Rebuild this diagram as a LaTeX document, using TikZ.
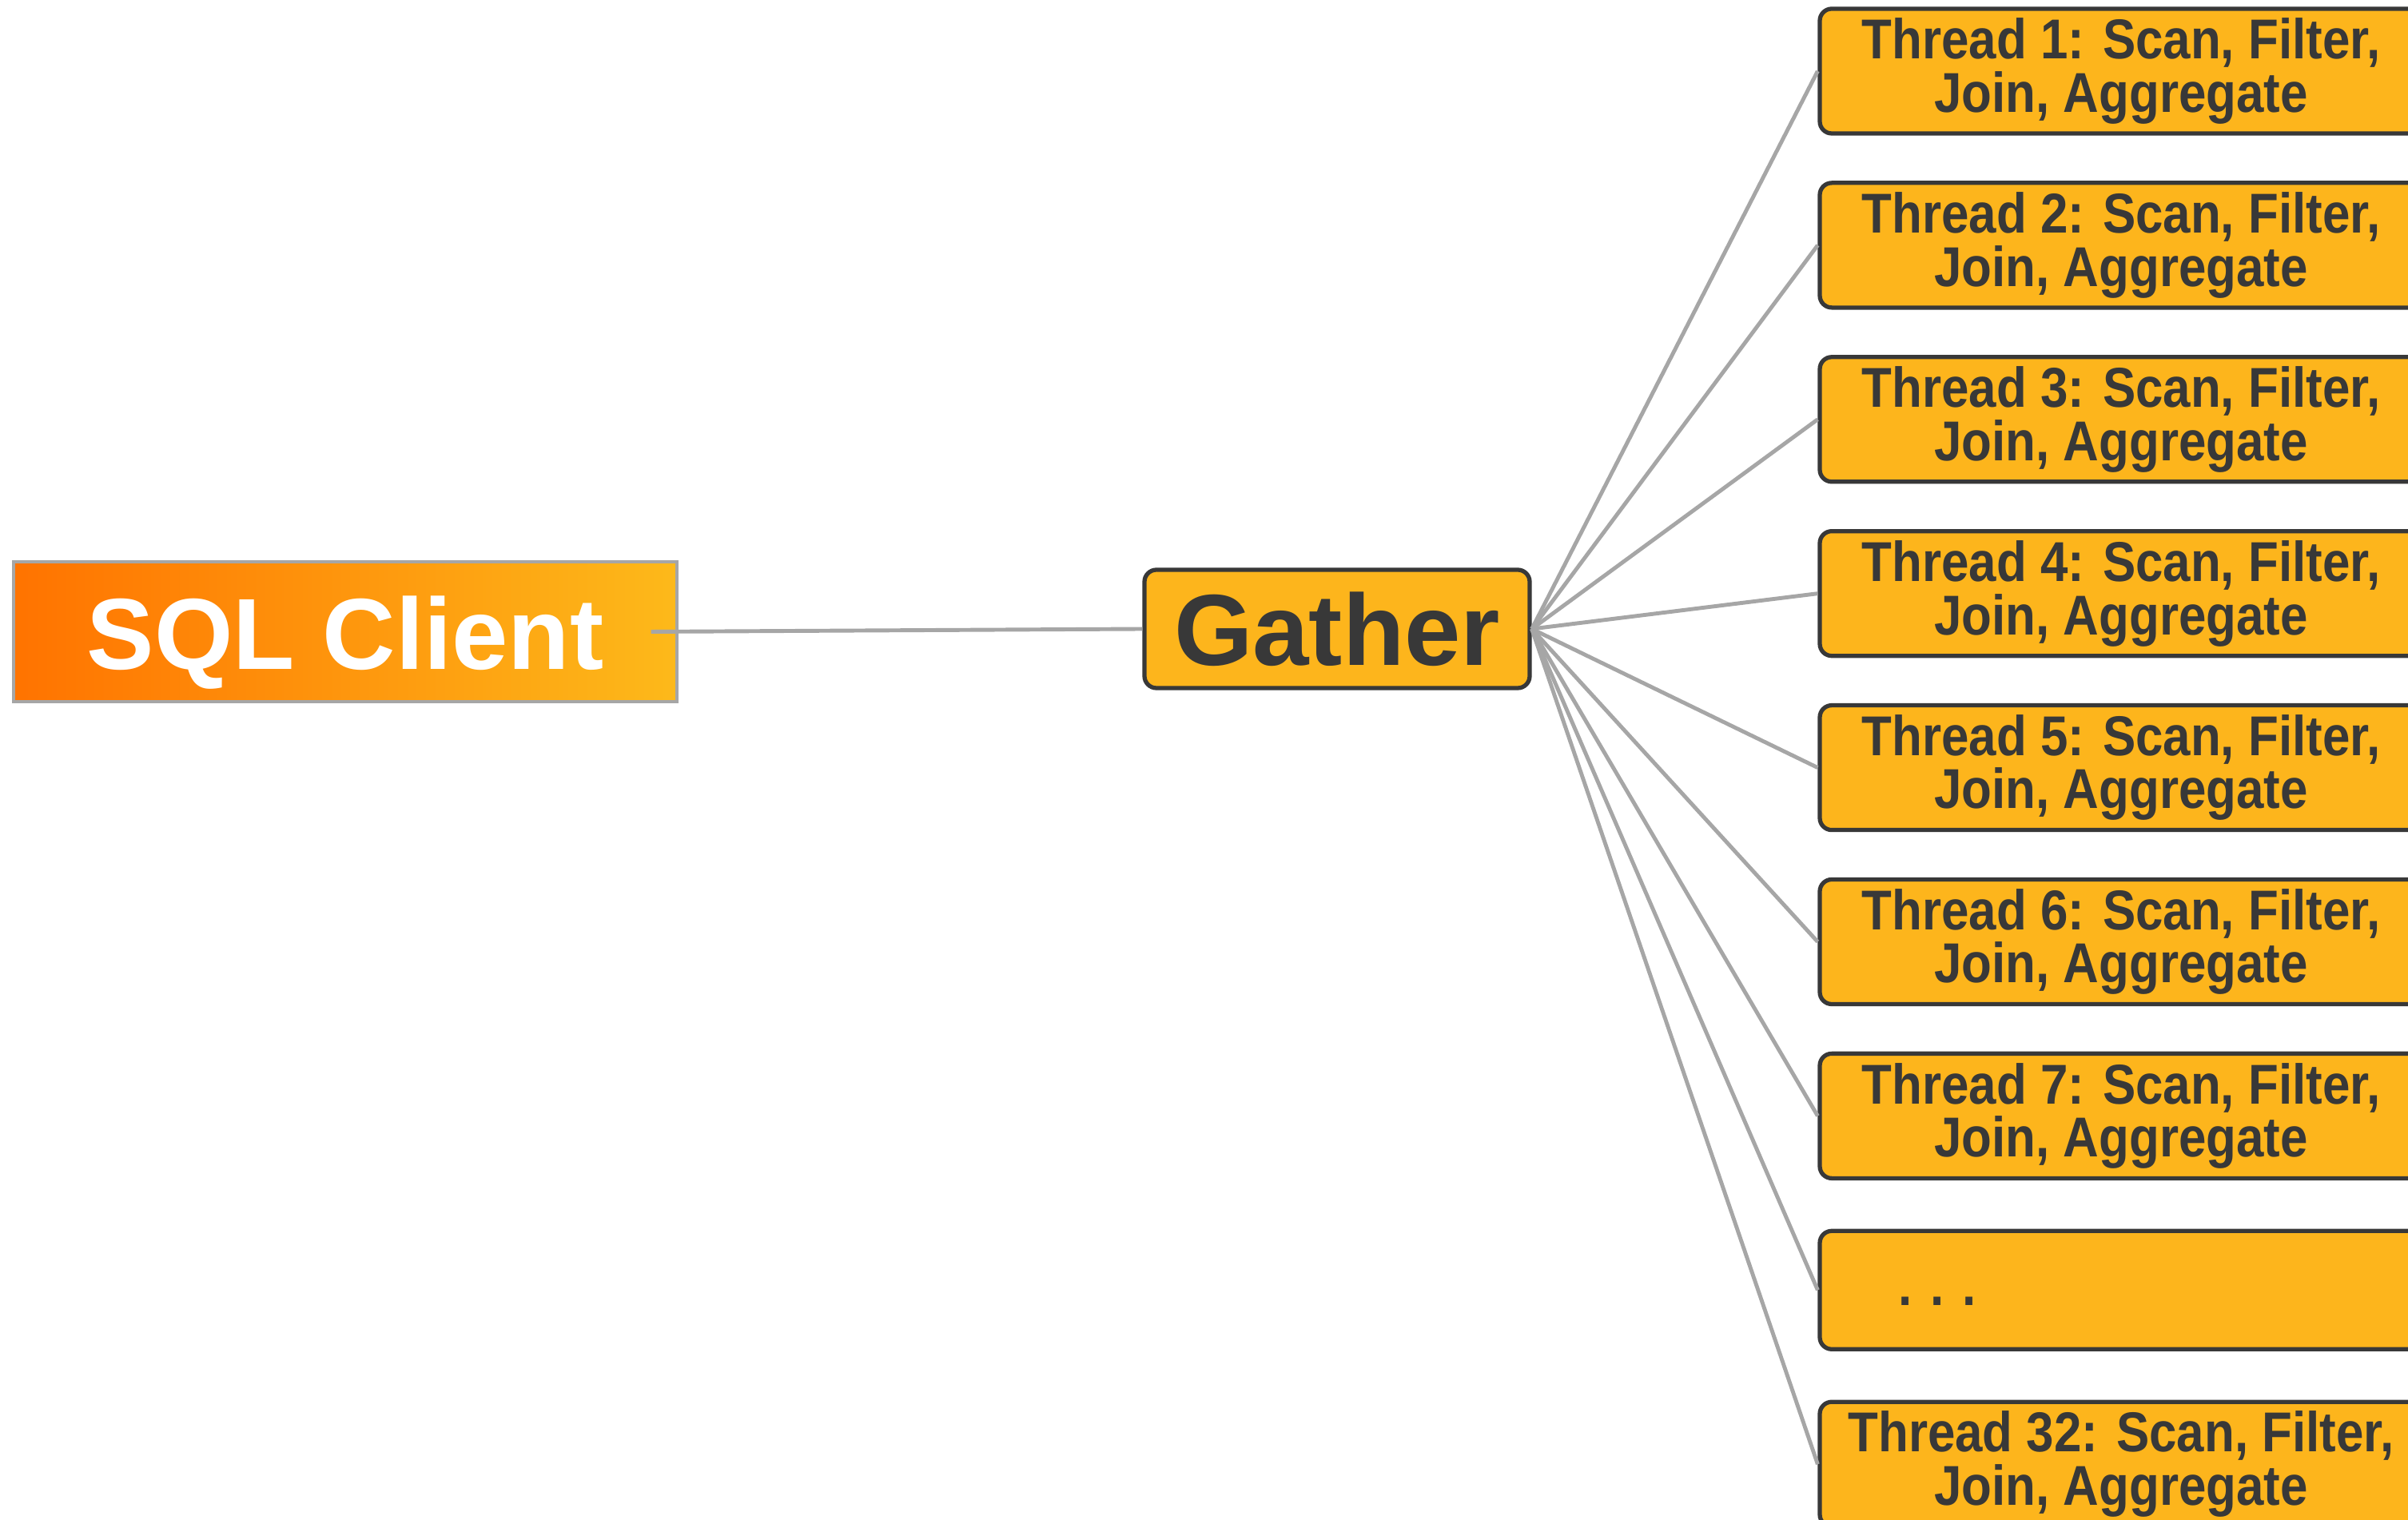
\documentclass[tikz,border=0pt]{standalone}
\usepackage{fontspec}
\setmainfont{Liberation Sans}
\newfontfamily\narrowsans[FakeStretch=0.88]{Liberation Sans}
\usepackage{xcolor}
\usetikzlibrary{positioning}

\definecolor{boxfill}{HTML}{FDB51C}
\definecolor{boxline}{HTML}{383838}
\definecolor{linegray}{HTML}{A6A6A6}
\definecolor{clientorange}{HTML}{FF7300}
\definecolor{clientyellow}{HTML}{FDB91A}

\tikzset{
    client/.style={draw=linegray, line width=0.9pt, left color=clientorange, right color=clientyellow,
        minimum width=8.3cm, minimum height=1.75cm, text=white, text height=0.95cm, text depth=0pt,
        font=\fontsize{36}{40}\selectfont\bfseries},
    gatherbox/.style={draw=boxline, fill=boxfill, line width=1.5pt, rounded corners=0.15cm,
        minimum width=4.82cm, minimum height=1.48cm, text=boxline,
        font=\fontsize{36}{40}\selectfont\bfseries},
    threadbox/.style={draw=boxline, fill=boxfill, line width=1.5pt, rounded corners=0.15cm,
        minimum width=7.54cm, minimum height=1.48cm, text=boxline, align=center,
        font=\narrowsans\bfseries\fontsize{20}{19}\selectfont},
    link/.style={draw=linegray, line width=1.4pt}
}

\begin{document}
\begin{tikzpicture}
    \useasboundingbox (0,0) rectangle (30.13,19.02);
    \clip (0,0) rectangle (30.13,19.02);

    % client and gather
    \node[client] (sql) at (4.32,11.115) {SQL Client};
    \node[gatherbox] (gather) at (16.73,11.15) {Gather};

    % worker threads
    \foreach \n in {1,...,7} {
        \node[threadbox] (t\n) at (26.54,{18.13-2.179*(\n-1)}) {Thread \n: Scan, Filter,\\Join, Aggregate};
    }
    \node[threadbox] (tdots) at (26.54,{18.13-2.179*7}) {};
    \node[anchor=base west, inner sep=0pt, text=boxline,
        font=\narrowsans\bfseries\fontsize{20}{19}\selectfont] (dots)
        at ([xshift=1cm, yshift=-0.19cm]tdots.west) {. . .};
    \node[threadbox] (t32) at (26.54,{18.13-2.179*8}) {Thread 32: Scan, Filter,\\Join, Aggregate};

    % connectors
    \draw[link] ([xshift=-0.34cm]sql.east) -- (gather.west);
    \foreach \t in {1,2,3,4,5,6,7,dots,32} {
        \draw[link] (gather.east) -- (t\t.west);
    }
\end{tikzpicture}
\end{document}
